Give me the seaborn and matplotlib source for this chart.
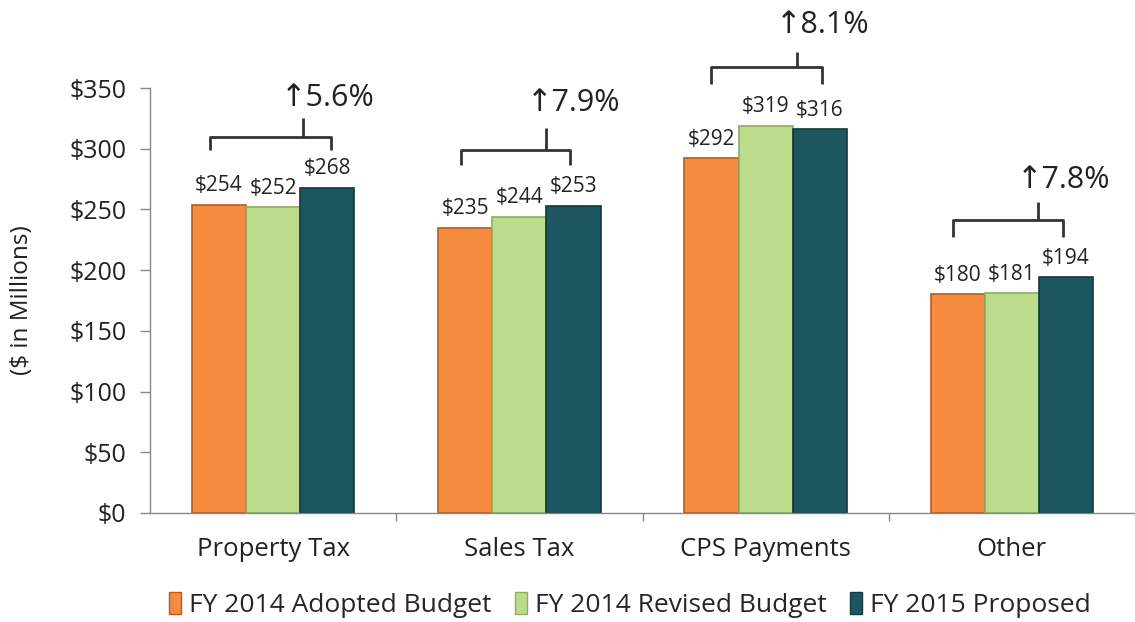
import matplotlib
matplotlib.use("Agg")
import matplotlib.pyplot as plt
import seaborn as sns
import pandas as pd
from matplotlib.patches import Patch

categories = ["Property Tax", "Sales Tax", "CPS Payments", "Other"]
series = ["FY 2014 Adopted Budget", "FY 2014 Revised Budget", "FY 2015 Proposed"]
adopted_2014 = [254, 235, 292, 180]
revised_2014 = [252, 244, 319, 181]
proposed_2015 = [268, 253, 316, 194]
growth_labels = ["5.6%", "7.9%", "8.1%", "7.8%"]
yticks = [0, 50, 100, 150, 200, 250, 300, 350]

colors = ["#F78B40", "#BBDC8A", "#1C5660"]
edge_colors = ["#B85A20", "#8AAE62", "#0F3A40"]

rows = []
for s, vals in zip(series, [adopted_2014, revised_2014, proposed_2015]):
    for c, v in zip(categories, vals):
        rows.append({"category": c, "series": s, "value": v})
df = pd.DataFrame(rows)

sns.set_theme(style="white")
FONT = ["Open Sans", "DejaVu Sans"]
plt.rcParams["font.family"] = FONT

fig = plt.figure(figsize=(11.35, 6.22), dpi=100)
ax = fig.add_axes([150 / 1135, (622 - 513) / 622, (1135 - 150) / 1135, (513 - 88) / 622])

sns.barplot(data=df, x="category", y="value", hue="series", order=categories,
            hue_order=series, palette=colors, saturation=1, width=0.66, ax=ax,
            legend=False, linewidth=1.2)

for i, cont in enumerate(ax.containers):
    for bar in cont:
        bar.set_edgecolor(edge_colors[i])
    ax.bar_label(cont, labels=[f"${int(round(b.get_height()))}" for b in cont],
                 padding=6, fontsize=15, color="#222222")

ax.set_xlim(-0.5, 3.5)
ax.set_ylim(0, 350)
ax.set_yticks(yticks)
ax.set_yticklabels([f"${v}" for v in yticks], fontsize=18, color="#222222")
ax.set_xticks([0.5, 1.5, 2.5])
ax.set_xticklabels([])
ax.tick_params(axis="x", direction="out", length=6, color="#888888", width=1, bottom=True)
ax.tick_params(axis="y", direction="out", length=7, color="#888888", width=1, left=True, pad=10)
for i, c in enumerate(categories):
    ax.text(i, -20, c, ha="center", va="top", fontsize=18.5, color="#222222")
ax.set_xlabel("")
ax.set_ylabel("($ in Millions)", fontsize=17.5, color="#222222")
ax.yaxis.set_label_coords(-0.118, 0.5)

for side in ["top", "right"]:
    ax.spines[side].set_visible(False)
for side in ["left", "bottom"]:
    ax.spines[side].set_color("#888888")
    ax.spines[side].set_linewidth(1)

# growth brackets: (left, right, stem x offset, horizontal y, leg bottom y, stem top y, text y, text x offset)
brackets = [
    (-0.256, 0.236, 0.122, 310, 299, 325, 342, 0.03),
    (-0.236, 0.207, 0.110, 299, 287, 317, 338, 0.03),
    (-0.220, 0.228, 0.126, 367, 353, 380, 402, 0.04),
    (-0.240, 0.207, 0.106, 241, 227, 256, 274, 0.02),
]
for i, (l, r, sx, hy, ly, sy, ty, tx) in enumerate(brackets):
    kw = dict(color="#333333", lw=2, clip_on=False, solid_capstyle="butt")
    ax.plot([i + l, i + l, i + r, i + r], [ly, hy, hy, ly], **kw)
    ax.plot([i + sx, i + sx], [hy, sy], **kw)
    ax.text(i + tx, ty, "\u2191" + growth_labels[i], ha="left", va="center",
            fontsize=22, color="#222222", clip_on=False)

handles = [Patch(facecolor=colors[k], edgecolor=edge_colors[k], label=series[k]) for k in range(3)]
fig.legend(handles=handles, loc="center", bbox_to_anchor=(630 / 1135, 1 - 605 / 622),
           ncol=3, frameon=False, fontsize=19, handlelength=0.45, handleheight=0.9,
           handletextpad=0.3, columnspacing=0.9)

fig.savefig("out.png", dpi=100)
